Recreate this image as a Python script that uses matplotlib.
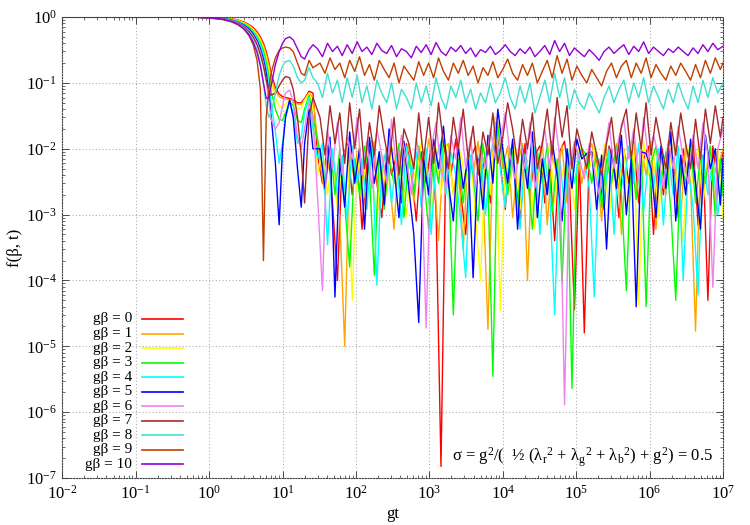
import matplotlib
matplotlib.use("Agg")
import matplotlib.pyplot as plt
from matplotlib.ticker import LogLocator, NullFormatter, FixedLocator

plt.rcParams['font.family'] = ['Liberation Serif', 'DejaVu Serif']
plt.rcParams['mathtext.fontset'] = 'custom'
plt.rcParams['mathtext.rm'] = 'Liberation Serif'
plt.rcParams['mathtext.it'] = 'Liberation Serif:italic'
plt.rcParams['mathtext.default'] = 'regular'

# sample times (gt): the early part is common, the noisy tail is sampled on
# two staggered grids (even gβ on grid a, odd gβ on grid b)
x_early = [0.01, 0.1, 0.3, 0.6, 1.0, 1.5, 2.0, 2.5, 3.0, 3.5, 4.0, 4.5, 5.0, 5.5,
           6.0, 6.5, 7.0, 8.0, 9.0, 10, 11, 12.5, 14, 16, 18, 20, 23, 26]
x_late_a = [30, 35, 41, 48, 56, 65, 76, 89, 104, 121, 141, 165, 193, 225, 262, 306,
            357, 417, 487, 569, 664, 775, 905, 1057, 1234, 1441, 1683, 1965, 2294,
            2679, 3128, 3652, 4265, 4980, 5815, 6790, 7929, 9258, 1.081e4, 1.262e4,
            1.474e4, 1.721e4, 2.01e4, 2.347e4, 2.74e4, 3.2e4, 3.736e4, 4.363e4,
            5.094e4, 5.948e4, 6.946e4, 8.11e4, 9.47e4, 1.106e5, 1.291e5, 1.508e5,
            1.761e5, 2.056e5, 2.4e5, 2.803e5, 3.273e5, 3.822e5, 4.463e5, 5.211e5,
            6.085e5, 7.105e5, 8.297e5, 9.688e5, 1.131e6, 1.321e6, 1.543e6, 1.801e6,
            2.103e6, 2.456e6, 2.868e6, 3.349e6, 3.91e6, 4.566e6, 5.332e6, 6.226e6,
            7.27e6, 8.489e6, 1e7]
x_late_b = [32.4, 37.9, 44.4, 51.8, 60.3, 70.3, 82.2, 96.2, 112, 131, 153, 178, 208,
            243, 283, 331, 386, 451, 526, 615, 717, 837, 978, 1142, 1334, 1557, 1819,
            2123, 2479, 2895, 3380, 3947, 4609, 5381, 6284, 7337, 8568, 1.0e4,
            1.168e4, 1.364e4, 1.593e4, 1.86e4, 2.172e4, 2.536e4, 2.961e4, 3.458e4,
            4.037e4, 4.714e4, 5.505e4, 6.428e4, 7.506e4, 8.764e4, 1.023e5, 1.195e5,
            1.395e5, 1.63e5, 1.903e5, 2.221e5, 2.594e5, 3.029e5, 3.537e5, 4.13e5,
            4.823e5, 5.631e5, 6.575e5, 7.678e5, 8.966e5, 1.047e6, 1.222e6, 1.428e6,
            1.667e6, 1.946e6, 2.273e6, 2.654e6, 3.099e6, 3.619e6, 4.225e6, 4.934e6,
            5.762e6, 6.728e6, 7.856e6, 9.2e6, 1e7]
gt_a = x_early + x_late_a
gt_b = x_early + x_late_b

x_ticks = [1e-2, 1e-1, 1e0, 1e1, 1e2, 1e3, 1e4, 1e5, 1e6, 1e7]
y_ticks = [1e-7, 1e-6, 1e-5, 1e-4, 1e-3, 1e-2, 1e-1, 1e0]

# f(beta, t) for g*beta = 0 .. 10
f0 = [1, 1, 1, 0.999, 0.99, 0.975, 0.95, 0.9, 0.84, 0.77, 0.69, 0.6, 0.5, 0.4,
      0.3, 0.21, 0.14, 0.085, 0.068, 0.062, 0.06, 0.058, 0.055, 0.05, 0.05, 0.058, 0.075, 0.07,
      0.008, 0.003, 0.011, 0.0015, 1e-4, 0.007, 0.012, 0.002, 0.009, 0.0006,
      0.006, 0.013, 0.003, 0.0009, 0.01, 0.004, 0.008, 0.0015, 0.012, 0.005,
      0.0008, 0.009, 0.003, 0.011, 0.0012, 1.5e-7, 0.01, 0.004, 0.014, 0.002,
      0.0005, 0.007, 0.011, 0.003, 0.009, 0.0015, 0.03, 0.006, 0.0012, 0.01,
      0.004, 0.0007, 0.012, 0.002, 0.008, 0.011, 0.0015, 0.006, 0.0004, 0.009,
      0.013, 0.003, 3.6e-5, 0.007, 1.6e-5, 0.008, 0.009, 0.004, 0.0012, 0.011,
      0.006, 0.0009, 0.01, 0.003, 0.013, 0.0015, 0.007, 0.011, 0.0005, 0.009,
      0.002, 0.012, 0.006, 0.0009, 0.01, 0.003, 0.014, 0.0007, 0.008, 5e-5,
      0.011, 0.003, 0.009]
f1 = [1, 1, 1, 0.999, 0.988, 0.97, 0.94, 0.89, 0.82, 0.75, 0.66, 0.57, 0.47, 0.37,
      0.27, 0.19, 0.12, 0.075, 0.062, 0.058, 0.057, 0.055, 0.052, 0.048, 0.047, 0.055, 0.07, 0.06,
      0.006, 0.002, 0.012, 0.004, 0.0009, 1e-5, 0.009, 0.003, 0.011, 0.0018,
      0.007, 0.013, 0.0012, 0.008, 0.004, 0.0006, 0.01, 0.005, 0.012, 0.0015,
      0.008, 0.003, 0.014, 0.006, 0.0004, 0.009, 0.012, 0.002, 0.007, 0.0003,
      0.01, 0.004, 0.013, 0.0025, 1.8e-5, 0.008, 0.025, 0.005, 0.011, 0.0009,
      0.006, 0.012, 1e-4, 0.009, 0.003, 0.013, 0.0007, 0.008, 0.004, 0.011,
      0.0015, 0.007, 0.01, 0.003, 0.008, 0.012, 0.005, 0.0008, 0.01, 0.003,
      0.012, 0.0005, 0.007, 0.009, 0.002, 0.011, 0.004, 0.013, 0.0006, 0.008,
      0.002, 0.01, 0.005, 0.0009, 0.012, 0.003, 1.7e-5, 0.009, 0.004, 0.011,
      0.0012, 0.007, 0.01]
f2 = [1, 1, 1, 0.999, 0.986, 0.965, 0.93, 0.88, 0.81, 0.73, 0.64, 0.54, 0.44, 0.34,
      0.24, 0.16, 0.1, 0.06, 0.045, 0.042, 0.047, 0.055, 0.05, 0.04, 0.042, 0.055, 0.07, 0.04,
      0.004, 0.01, 0.002, 0.008, 0.0012, 0.006, 0.011, 5e-5, 0.009, 0.0015,
      0.012, 0.004, 0.0008, 0.008, 0.002, 0.011, 0.006, 0.009, 0.0009, 0.007,
      0.003, 0.013, 0.005, 0.0006, 0.01, 0.002, 0.012, 0.004, 0.0011, 0.009,
      0.003, 0.008, 0.0009, 1e-4, 0.01, 0.002, 0.03, 3.5e-5, 0.007, 0.003,
      0.011, 0.0012, 0.008, 0.004, 0.0006, 0.01, 0.003, 0.012, 0.0015, 0.007,
      0.003, 0.009, 0.0012, 0.011, 0.008, 0.005, 0.01, 0.002, 0.012, 0.0008,
      0.007, 0.003, 0.01, 0.0015, 0.012, 4.3e-5, 0.013, 0.004, 0.009, 0.0009,
      0.008, 0.003, 0.012, 0.002, 0.0004, 0.01, 0.003, 0.011, 0.0014, 0.007,
      0.003, 0.01, 0.0009]
f3 = [1, 1, 1, 0.998, 0.984, 0.96, 0.92, 0.86, 0.79, 0.71, 0.61, 0.51, 0.41, 0.31,
      0.21, 0.13, 0.075, 0.04, 0.028, 0.027, 0.035, 0.052, 0.045, 0.027, 0.025, 0.04, 0.065, 0.03,
      0.009, 0.003, 0.012, 0.002, 0.01, 0.0015, 1.6e-4, 0.007, 0.002, 0.011,
      0.004, 1.2e-4, 0.009, 0.0012, 0.007, 0.003, 0.012, 0.0009, 0.008, 0.002,
      0.011, 0.004, 0.0006, 0.009, 0.003, 0.013, 0.005, 3e-5, 0.007, 0.0015,
      0.01, 0.004, 0.0008, 0.012, 0.003, 3.5e-6, 0.022, 0.007, 0.002, 0.009,
      0.0012, 0.011, 0.004, 0.0006, 0.009, 0.003, 0.012, 0.0011, 0.007, 9e-5,
      0.008, 2.3e-6, 0.005, 0.01, 0.008, 0.003, 0.009, 0.0013, 0.007, 0.003,
      0.011, 0.002, 7e-5, 0.008, 0.0017, 0.01, 4e-5, 0.006, 0.011, 0.003,
      0.009, 0.0012, 5e-5, 0.007, 0.003, 0.012, 0.0015, 0.008, 0.003, 0.011,
      0.0009, 0.007, 0.002]
f4 = [1, 1, 1, 0.998, 0.982, 0.955, 0.91, 0.85, 0.77, 0.68, 0.58, 0.48, 0.37, 0.27,
      0.17, 0.1, 0.05, 0.018, 0.006, 0.012, 0.03, 0.052, 0.035, 0.012, 0.015, 0.035, 0.06, 0.02,
      0.007, 0.012, 3.5e-4, 0.01, 0.002, 0.008, 0.0008, 0.011, 0.003, 0.007,
      0.0012, 0.013, 8.5e-5, 0.005, 0.01, 0.0015, 0.008, 0.0007, 0.011, 0.004,
      0.009, 0.0013, 0.01, 0.0005, 0.007, 0.013, 0.002, 0.009, 0.004, 0.0008,
      1.1e-4, 0.008, 0.0025, 0.011, 0.001, 0.007, 0.025, 0.005, 0.0013, 0.01,
      0.003, 0.0006, 0.008, 0.0025, 0.011, 0.0005, 0.007, 0.002, 3e-5, 0.007,
      0.0013, 0.01, 0.003, 0.009, 0.0075, 0.0025, 5.6e-5, 0.007, 0.0015, 0.01,
      0.0005, 0.008, 0.0025, 0.011, 0.003, 0.012, 0.0011, 0.007, 0.0025, 0.01,
      0.0007, 0.008, 0.002, 0.011, 1e-4, 0.005, 0.0013, 6e-5, 0.008, 0.002,
      0.007, 0.001, 0.005]
f5 = [1, 1, 1, 0.998, 0.98, 0.95, 0.9, 0.83, 0.75, 0.66, 0.55, 0.44, 0.33, 0.23,
      0.14, 0.075, 0.032, 0.006, 0.0007, 0.01, 0.03, 0.055, 0.03, 0.005, 0.0013, 0.012, 0.04, 0.01,
      0.01, 0.0025, 0.015, 5.6e-5, 0.007, 0.0013, 0.018, 0.003, 0.01, 0.0006,
      0.015, 0.003, 0.009, 0.0014, 0.02, 0.005, 0.0009, 0.013, 0.0025, 0.0005,
      2.3e-5, 0.007, 0.002, 0.014, 0.005, 0.022, 0.003, 0.0008, 0.011, 0.0025,
      0.008, 1.1e-4, 0.007, 0.0012, 0.016, 0.003, 0.04, 0.01, 0.003, 0.014,
      0.0006, 0.01, 0.0025, 0.018, 0.0009, 0.007, 0.002, 0.013, 0.004, 0.0008,
      0.01, 0.0025, 0.014, 0.007, 0.0085, 0.009, 0.0012, 0.008, 0.0003, 0.01,
      0.0025, 0.016, 0.001, 0.007, 4e-5, 0.009, 0.0085, 0.005, 0.0009, 0.011,
      0.0025, 0.018, 0.0008, 0.008, 0.002, 0.014, 0.003, 0.0006, 0.016, 0.005,
      0.01, 0.0014, 0.007]
f6 = [1, 1, 1, 0.997, 0.977, 0.945, 0.89, 0.82, 0.73, 0.63, 0.52, 0.41, 0.3, 0.2,
      0.11, 0.055, 0.028, 0.02, 0.025, 0.045, 0.07, 0.078, 0.05, 0.015, 0.01, 0.02, 0.05, 0.03,
      0.0019, 7e-5, 0.02, 0.005, 0.025, 0.004, 0.015, 0.007, 0.03, 0.004,
      0.013, 0.0025, 0.02, 0.008, 0.003, 0.028, 0.005, 0.016, 0.007, 0.002,
      0.015, 0.005, 1.9e-5, 0.01, 0.025, 0.005, 0.0025, 0.016, 0.007, 0.03,
      0.005, 0.015, 0.0025, 0.01, 0.005, 0.02, 0.007, 0.013, 0.035, 0.008,
      0.0035, 0.016, 0.005, 0.025, 0.0025, 0.007, 0.02, 0.005, 0.03, 0.008,
      1.3e-6, 0.005, 0.013, 0.007, 0.0035, 0.012, 0.005, 0.002, 0.008, 0.025,
      0.005, 0.015, 0.028, 0.007, 0.02, 0.0035, 0.03, 0.007, 0.016, 0.008,
      0.0025, 0.013, 0.005, 0.022, 0.007, 0.003, 0.016, 0.005, 0.025, 0.008,
      7.8e-5, 0.01, 0.02]
f7 = [1, 1, 1, 0.997, 0.975, 0.94, 0.88, 0.8, 0.71, 0.6, 0.49, 0.38, 0.27, 0.18,
      0.11, 0.075, 0.065, 0.07, 0.09, 0.11, 0.125, 0.12, 0.08, 0.03, 0.008, 0.0015, 0.03, 0.06,
      0.03, 0.008, 0.045, 0.012, 0.035, 0.006, 0.05, 0.01, 0.04, 0.005,
      0.025, 0.008, 0.045, 0.015, 0.006, 0.03, 0.004, 0.02, 0.012, 0.005,
      0.035, 0.007, 0.03, 0.006, 0.05, 0.012, 0.005, 0.03, 0.01, 0.04,
      0.007, 0.022, 0.004, 0.018, 0.008, 0.035, 0.006, 0.015, 0.05, 0.02,
      0.006, 0.028, 0.01, 0.035, 0.005, 0.012, 0.04, 0.008, 0.06, 0.015,
      0.045, 0.005, 0.02, 0.01, 0.005, 0.018, 0.008, 0.004, 0.012, 0.03,
      0.006, 0.022, 0.04, 0.007, 0.035, 0.01, 0.05, 0.008, 0.03, 0.012,
      0.005, 0.025, 0.008, 0.035, 0.012, 0.005, 0.028, 0.007, 0.04, 0.012,
      0.045, 0.015, 0.03]
f8 = [1, 1, 1, 0.996, 0.972, 0.93, 0.87, 0.78, 0.68, 0.56, 0.44, 0.32, 0.2, 0.1,
      0.045, 0.03, 0.035, 0.07, 0.13, 0.18, 0.21, 0.22, 0.18, 0.12, 0.1, 0.11, 0.17, 0.12,
      0.1, 0.06, 0.14, 0.07, 0.11, 0.05, 0.12, 0.06, 0.13, 0.05,
      0.09, 0.04, 0.11, 0.07, 0.05, 0.1, 0.04, 0.08, 0.06, 0.04,
      0.1, 0.05, 0.09, 0.045, 0.12, 0.06, 0.04, 0.09, 0.06, 0.11,
      0.05, 0.08, 0.04, 0.07, 0.05, 0.1, 0.05, 0.07, 0.12, 0.06,
      0.04, 0.09, 0.05, 0.1, 0.035, 0.06, 0.11, 0.05, 0.14, 0.06,
      0.12, 0.04, 0.08, 0.05, 0.04, 0.07, 0.05, 0.035, 0.06, 0.09,
      0.05, 0.08, 0.11, 0.05, 0.1, 0.06, 0.12, 0.05, 0.09, 0.06,
      0.04, 0.08, 0.05, 0.1, 0.06, 0.04, 0.09, 0.05, 0.11, 0.06,
      0.12, 0.07, 0.1]
f9 = [1, 1, 1, 0.995, 0.968, 0.92, 0.85, 0.76, 0.65, 0.52, 0.38, 0.22, 0.08, 2e-4,
      0.03, 0.08, 0.14, 0.24, 0.31, 0.34, 0.35, 0.34, 0.3, 0.2, 0.14, 0.13, 0.22, 0.17,
      0.2, 0.14, 0.24, 0.16, 0.2, 0.12, 0.22, 0.15, 0.25, 0.13,
      0.19, 0.11, 0.22, 0.16, 0.12, 0.2, 0.1, 0.18, 0.14, 0.11,
      0.21, 0.13, 0.2, 0.12, 0.24, 0.15, 0.11, 0.2, 0.14, 0.22,
      0.13, 0.18, 0.1, 0.17, 0.13, 0.21, 0.12, 0.16, 0.23, 0.14,
      0.11, 0.19, 0.13, 0.2, 0.1, 0.15, 0.22, 0.12, 0.26, 0.14,
      0.23, 0.11, 0.18, 0.13, 0.1, 0.16, 0.12, 0.09, 0.15, 0.2,
      0.12, 0.18, 0.22, 0.12, 0.2, 0.14, 0.24, 0.12, 0.19, 0.14,
      0.11, 0.18, 0.13, 0.2, 0.15, 0.11, 0.19, 0.12, 0.22, 0.14,
      0.24, 0.16, 0.2]
f10 = [1, 1, 1, 0.996, 0.97, 0.93, 0.86, 0.77, 0.66, 0.54, 0.41, 0.29, 0.18, 0.1,
       0.058, 0.06, 0.09, 0.19, 0.3, 0.4, 0.47, 0.5, 0.45, 0.33, 0.25, 0.23, 0.32, 0.38,
       0.33, 0.25, 0.4, 0.3, 0.36, 0.26, 0.38, 0.28, 0.42, 0.3,
       0.35, 0.27, 0.4, 0.31, 0.28, 0.37, 0.25, 0.33, 0.3, 0.24,
       0.36, 0.29, 0.38, 0.27, 0.41, 0.3, 0.26, 0.35, 0.3, 0.37,
       0.28, 0.34, 0.25, 0.32, 0.29, 0.36, 0.27, 0.31, 0.38, 0.3,
       0.26, 0.33, 0.28, 0.35, 0.25, 0.3, 0.37, 0.27, 0.44, 0.3,
       0.4, 0.26, 0.34, 0.29, 0.25, 0.32, 0.27, 0.22, 0.3, 0.35,
       0.28, 0.33, 0.38, 0.27, 0.36, 0.3, 0.42, 0.28, 0.35, 0.3,
       0.26, 0.33, 0.29, 0.35, 0.3, 0.26, 0.34, 0.28, 0.38, 0.3,
       0.4, 0.32, 0.36]

series = [f0, f1, f2, f3, f4, f5, f6, f7, f8, f9, f10]
labels = ['gβ = %d' % k for k in range(11)]
colors = ['#ff0000', '#ffa500', '#ffff00', '#00ff00', '#00ffff', '#0000ff',
          '#ee82ee', '#a52a2a', '#40e0d0', '#c04000', '#9400d3']

fig = plt.figure(figsize=(7.5, 5.25), dpi=100)
ax = fig.add_axes([0.083, 0.0895, 0.881, 0.878])

for k, (s, c) in enumerate(zip(series, colors)):
    gt = gt_a if k % 2 == 0 else gt_b
    if len(s) != len(gt):
        raise ValueError('length mismatch for %d: %d vs %d' % (k, len(s), len(gt)))
    ax.plot(gt, s, color=c, lw=1.0)

ax.set_xscale('log')
ax.set_yscale('log')
ax.set_xlim(1e-2, 1e7)
ax.set_ylim(1e-7, 1)

ax.xaxis.set_major_locator(FixedLocator(x_ticks))
ax.yaxis.set_major_locator(FixedLocator(y_ticks))
ax.xaxis.set_minor_locator(LogLocator(base=10, subs=range(2, 10), numticks=200))
ax.yaxis.set_minor_locator(LogLocator(base=10, subs=range(2, 10), numticks=200))
ax.xaxis.set_minor_formatter(NullFormatter())
ax.yaxis.set_minor_formatter(NullFormatter())
ax.tick_params(which='both', direction='in', top=True, right=True, labelsize=12,
               color='#303030')
ax.tick_params(which='major', length=5, width=0.6)
ax.tick_params(which='minor', length=2.5, width=0.5)
ax.tick_params(axis='x', pad=5)
ax.tick_params(axis='y', pad=4)

ax.grid(True, which='major', linestyle=(0, (1, 2)), color='#b0b0b0', lw=0.8)
for sp in ax.spines.values():
    sp.set_linestyle((0, (1, 1.5)))
    sp.set_color('#404040')
    sp.set_linewidth(0.8)

ax.set_xlabel('gt', fontsize=12, labelpad=2)
ax.set_ylabel('f(β, t)', fontsize=12, labelpad=2)

# key, drawn the gnuplot way: right-aligned text then a line sample
for i, (lab, c) in enumerate(zip(labels, colors)):
    yy = 0.345 - i * 0.0315
    ax.text(0.106, yy, lab, transform=ax.transAxes, ha='right', va='center',
            fontsize=11)
    ax.plot([0.121, 0.183], [yy, yy], transform=ax.transAxes, color=c, lw=1.2,
            clip_on=False)

ax.text(0.985, 0.045,
        'σ = g$^{2}$/(  ½ (λ$_{r}$$^{2}$ + λ$_{g}$$^{2}$ + λ$_{b}$$^{2}$) + g$^{2}$) = 0.5',
        transform=ax.transAxes, ha='right', va='center', fontsize=12)

fig.savefig('out.png', dpi=100)
